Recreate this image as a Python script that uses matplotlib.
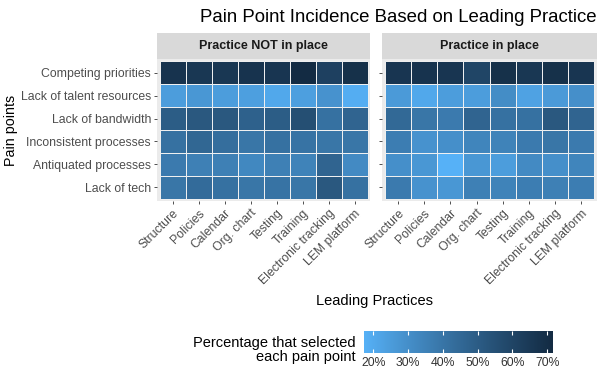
import numpy as np
import matplotlib.pyplot as plt
from matplotlib.colors import ListedColormap, Normalize, to_rgb

plt.rcParams['font.family'] = ['Liberation Sans', 'DejaVu Sans']

# 数据
practices = ["Structure", "Policies", "Calendar", "Org. chart", "Testing",
             "Training", "Electronic tracking", "LEM platform"]
pain_points = ["Competing priorities", "Lack of talent resources", "Lack of bandwidth",
               "Inconsistent processes", "Antiquated processes", "Lack of tech"]
panels = ["Practice NOT in place", "Practice in place"]

not_in_place = [
    [68, 66, 66, 68, 67, 71.7, 62, 69],
    [25, 27, 25, 24, 21, 24, 29, 19],
    [50, 52, 52, 48, 50, 56, 42, 47],
    [42, 46, 43, 40, 42, 41, 40, 40],
    [38, 36, 36, 33, 36, 35, 47, 32],
    [40, 44, 42, 40, 41, 40, 52, 42],
]
in_place = [
    [67, 68, 67, 60, 69, 66, 69, 67],
    [26, 21, 25, 25, 31, 23, 26, 30],
    [45, 40, 38, 47, 42, 42, 52, 47],
    [37, 29, 30, 34, 35, 38, 40, 38],
    [30, 27, 17.4, 27, 25, 32, 30, 34],
    [38, 29, 27, 36, 35, 37, 36, 37],
]
legend_ticks = [20, 30, 40, 50, 60, 70]


# ggplot 默认渐变 (Lab 空间插值)
def srgb_to_lab(c):
    c = np.asarray(c, float)
    lin = np.where(c <= 0.04045, c / 12.92, ((c + 0.055) / 1.055) ** 2.4)
    M = np.array([[0.4124, 0.3576, 0.1805],
                  [0.2126, 0.7152, 0.0722],
                  [0.0193, 0.1192, 0.9505]])
    xyz = M @ lin / np.array([0.95047, 1.0, 1.08883])
    f = np.where(xyz > 0.008856, np.cbrt(xyz), 7.787 * xyz + 16 / 116)
    return np.array([116 * f[1] - 16, 500 * (f[0] - f[1]), 200 * (f[1] - f[2])])


def lab_to_srgb(lab):
    L, a, b = lab
    fy = (L + 16) / 116
    fx = fy + a / 500
    fz = fy - b / 200
    f = np.array([fx, fy, fz])
    xyz = np.where(f ** 3 > 0.008856, f ** 3, (f - 16 / 116) / 7.787)
    xyz = xyz * np.array([0.95047, 1.0, 1.08883])
    Minv = np.array([[3.2406, -1.5372, -0.4986],
                     [-0.9689, 1.8758, 0.0415],
                     [0.0557, -0.2040, 1.0570]])
    lin = Minv @ xyz
    c = np.where(lin <= 0.0031308, 12.92 * lin, 1.055 * np.clip(lin, 0, None) ** (1 / 2.4) - 0.055)
    return np.clip(c, 0, 1)


lo = srgb_to_lab(to_rgb("#56B1F7"))
hi = srgb_to_lab(to_rgb("#132B43"))
cmap = ListedColormap([lab_to_srgb(lo + (hi - lo) * t) for t in np.linspace(0, 1, 256)])

all_vals = np.array(not_in_place + in_place)
norm = Normalize(vmin=all_vals.min(), vmax=all_vals.max())

fig = plt.figure(figsize=(6, 3.88), dpi=100)

panel_boxes = [[0.262, 0.482, 0.355, 0.366], [0.637, 0.482, 0.358, 0.366]]
for k, (data, name) in enumerate(zip([not_in_place, in_place], panels)):
    ax = fig.add_axes(panel_boxes[k])
    ax.set_facecolor("#EBEBEB")
    arr = np.array(data)
    for i in range(len(pain_points)):
        for j in range(len(practices)):
            ax.add_patch(plt.Rectangle((j - 0.5, i - 0.5), 1, 1,
                                       facecolor=cmap(norm(arr[i, j])),
                                       edgecolor="#F2F2F2", linewidth=0.7))
    ax.set_xlim(-0.6, len(practices) - 0.4)
    ax.set_ylim(len(pain_points) - 0.4, -0.6)
    for s in ax.spines.values():
        s.set_visible(False)
    ax.set_xticks(range(len(practices)))
    ax.set_xticklabels(practices, rotation=45, ha="right", va="top",
                       rotation_mode="anchor", fontsize=8.8, color="#4D4D4D")
    ax.set_yticks(range(len(pain_points)))
    if k == 0:
        ax.set_yticklabels(pain_points, fontsize=8.8, color="#4D4D4D")
    else:
        ax.set_yticklabels([])
    ax.tick_params(length=2.5, width=0.6, color="#333333", pad=2)

    # 分面标题
    b = panel_boxes[k]
    sax = fig.add_axes([b[0], b[1] + b[3], b[2], 0.066])
    sax.set_facecolor("#D9D9D9")
    sax.set_xticks([])
    sax.set_yticks([])
    for s in sax.spines.values():
        s.set_visible(False)
    sax.text(0.5, 0.5, name, ha="center", va="center", fontsize=9,
             fontweight="bold", color="#1A1A1A", transform=sax.transAxes)

fig.text(0.995, 0.955, "Pain Point Incidence Based on Leading Practice",
         ha="right", va="center", fontsize=13.4, color="black")
fig.text(0.018, 0.665, "Pain points", rotation=90, ha="center", va="center", fontsize=10.3)
fig.text(0.625, 0.225, "Leading Practices", ha="center", va="center", fontsize=10.5)

# 颜色条
cax = fig.add_axes([0.607, 0.09, 0.315, 0.057])
grad = np.linspace(norm.vmin, norm.vmax, 256).reshape(1, -1)
cax.imshow(grad, cmap=cmap, norm=norm, aspect="auto",
           extent=(norm.vmin, norm.vmax, 0, 1))
cax.vlines(legend_ticks, 0, 0.2, color="white", linewidth=0.8)
cax.vlines(legend_ticks, 0.8, 1, color="white", linewidth=0.8)
cax.set_xlim(norm.vmin, norm.vmax)
cax.set_ylim(0, 1)
cax.set_yticks([])
cax.set_xticks(legend_ticks)
cax.set_xticklabels([f"{t}%" for t in legend_ticks], fontsize=8.8, color="#333333")
cax.tick_params(length=0, pad=3)
for s in cax.spines.values():
    s.set_visible(False)
fig.text(0.593, 0.097, "Percentage that selected\neach pain point", ha="right",
         va="center", fontsize=10.5, linespacing=1.0)

fig.savefig("out.png", dpi=100)
